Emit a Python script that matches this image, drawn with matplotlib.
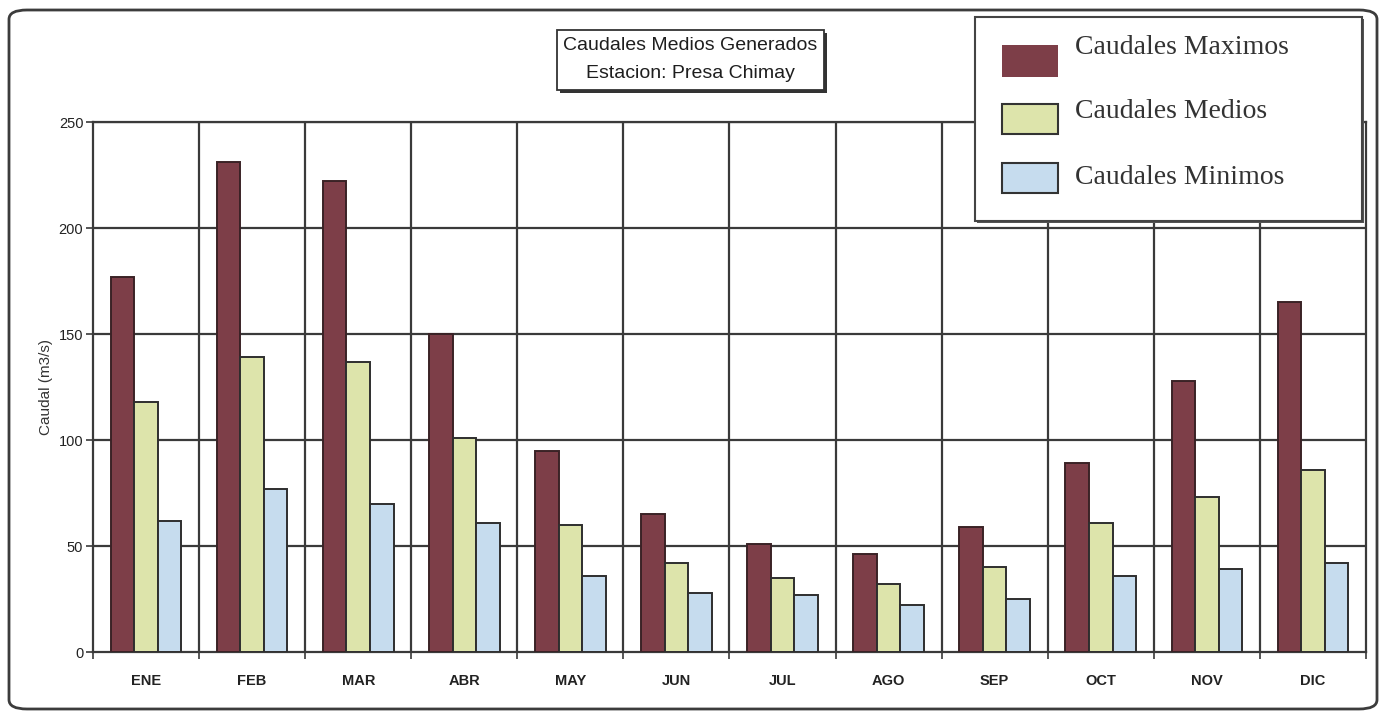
import matplotlib
matplotlib.use("Agg")
import matplotlib.pyplot as plt
from matplotlib.patches import Rectangle, FancyBboxPatch
import numpy as np

# Monthly flows at Presa Chimay station (m3/s)
meses = ["ENE", "FEB", "MAR", "ABR", "MAY", "JUN",
         "JUL", "AGO", "SEP", "OCT", "NOV", "DIC"]
caudal_maximo = [177, 231, 222, 150, 95, 65, 51, 46, 59, 89, 128, 165]
caudal_medio = [118, 139, 137, 101, 60, 42, 35, 32, 40, 61, 73, 86]
caudal_minimo = [62, 77, 70, 61, 36, 28, 27, 22, 25, 36, 39, 42]

series_labels = ["Caudales Maximos", "Caudales Medios", "Caudales Minimos"]
y_ticks = [0, 50, 100, 150, 200, 250]

W, H = 1381, 713
fig = plt.figure(figsize=(W / 100, H / 100), dpi=100)


def fx(x):
    return x / W


def fy(y):
    return 1 - y / H


# Rounded outer frame
frame = FancyBboxPatch((fx(9), fy(709)), fx(1377) - fx(9), fy(10) - fy(709),
                       boxstyle="round,pad=0,rounding_size=0.013",
                       transform=fig.transFigure, fill=False,
                       edgecolor="#3c3c3c", linewidth=2.0, zorder=0)
fig.patches.append(frame)

ax = fig.add_axes([fx(93), fy(652), fx(1366) - fx(93), fy(122) - fy(652)])

grid_c = "#3a3a3a"
c_max, c_med, c_min = "#7d3e48", "#dde4ab", "#c6dcee"
edge = "#2e2e2e"

x = np.arange(len(meses))
bw = 0.222
ax.bar(x - bw, caudal_maximo, bw, color=c_max, edgecolor="#3a2226",
       linewidth=1.4, zorder=3)
ax.bar(x, caudal_medio, bw, color=c_med, edgecolor=edge,
       linewidth=1.4, zorder=3)
ax.bar(x + bw, caudal_minimo, bw, color=c_min, edgecolor=edge,
       linewidth=1.4, zorder=3)

ax.set_xlim(-0.5, len(meses) - 0.5)
ax.set_ylim(0, 250)

# Grid: horizontal at each tick, vertical at month boundaries
for yv in y_ticks[1:]:
    ax.axhline(yv, color=grid_c, linewidth=1.6, zorder=1)
for xb in np.arange(0.5, len(meses) - 0.5, 1):
    ax.axvline(xb, color=grid_c, linewidth=1.6, zorder=1)

for s in ax.spines.values():
    s.set_color(grid_c)
    s.set_linewidth(1.6)

ax.set_yticks(y_ticks)
ax.set_yticklabels([str(v) for v in y_ticks], fontsize=10.5,
                   family="Liberation Sans", color="#222222")
ax.tick_params(axis="y", direction="out", length=5, width=1.2,
               color=grid_c, pad=2)

ax.set_xticks(x)
ax.set_xticklabels(meses, fontsize=10.5, family="Liberation Sans",
                   color="#222222", fontweight="bold")
ax.tick_params(axis="x", length=0, pad=16)
ax.set_xticks(np.arange(-0.5, len(meses), 1), minor=True)
ax.tick_params(axis="x", which="minor", direction="inout", length=10,
               width=1.2, color=grid_c)

ax.set_ylabel("Caudal (m3/s)", fontsize=11, family="Liberation Sans",
              color="#333333", labelpad=4)

# Title box with drop shadow
tb_x0, tb_y0, tb_x1, tb_y1 = 557, 30, 824, 90
shadow = Rectangle((fx(tb_x0 + 3), fy(tb_y1 + 3)), fx(tb_x1 - tb_x0),
                   fy(tb_y0) - fy(tb_y1), transform=fig.transFigure,
                   facecolor="#333333", edgecolor="none", zorder=5)
tbox = Rectangle((fx(tb_x0), fy(tb_y1)), fx(tb_x1 - tb_x0),
                 fy(tb_y0) - fy(tb_y1), transform=fig.transFigure,
                 facecolor="white", edgecolor="#333333", linewidth=1.3,
                 zorder=6)
fig.patches.extend([shadow, tbox])
fig.text(fx((tb_x0 + tb_x1) / 2), fy(46), "Caudales Medios Generados",
         ha="center", va="center", fontsize=14, family="Liberation Sans",
         color="#1e1e1e", zorder=7)
fig.text(fx((tb_x0 + tb_x1) / 2), fy(74), "Estacion: Presa Chimay",
         ha="center", va="center", fontsize=14, family="Liberation Sans",
         color="#1e1e1e", zorder=7)

# Legend panel
lg_x0, lg_y0, lg_x1, lg_y1 = 975, 17, 1362, 221
lshadow = Rectangle((fx(lg_x0 + 2), fy(lg_y1 + 2)), fx(lg_x1 - lg_x0),
                    fy(lg_y0) - fy(lg_y1), transform=fig.transFigure,
                    facecolor="#555555", edgecolor="none", zorder=5)
lbox = Rectangle((fx(lg_x0), fy(lg_y1)), fx(lg_x1 - lg_x0),
                 fy(lg_y0) - fy(lg_y1), transform=fig.transFigure,
                 facecolor="white", edgecolor="#444444", linewidth=1.5,
                 zorder=6)
fig.patches.extend([lshadow, lbox])

entries = [
    (c_max, "none", 45, 77, 48),
    (c_med, "#333333", 104, 134, 112),
    (c_min, "#333333", 163, 193, 177),
]
for (fc, ec, py0, py1, ty), lab in zip(entries, series_labels):
    r = Rectangle((fx(1002), fy(py1)), fx(1058 - 1002), fy(py0) - fy(py1),
                  transform=fig.transFigure, facecolor=fc, edgecolor=ec,
                  linewidth=1.5, zorder=7)
    fig.patches.append(r)
    fig.text(fx(1075), fy(ty), lab, ha="left", va="center", fontsize=20,
             family="Liberation Serif", color="#333333", zorder=8)

fig.savefig("out.png", dpi=100, facecolor="white")
